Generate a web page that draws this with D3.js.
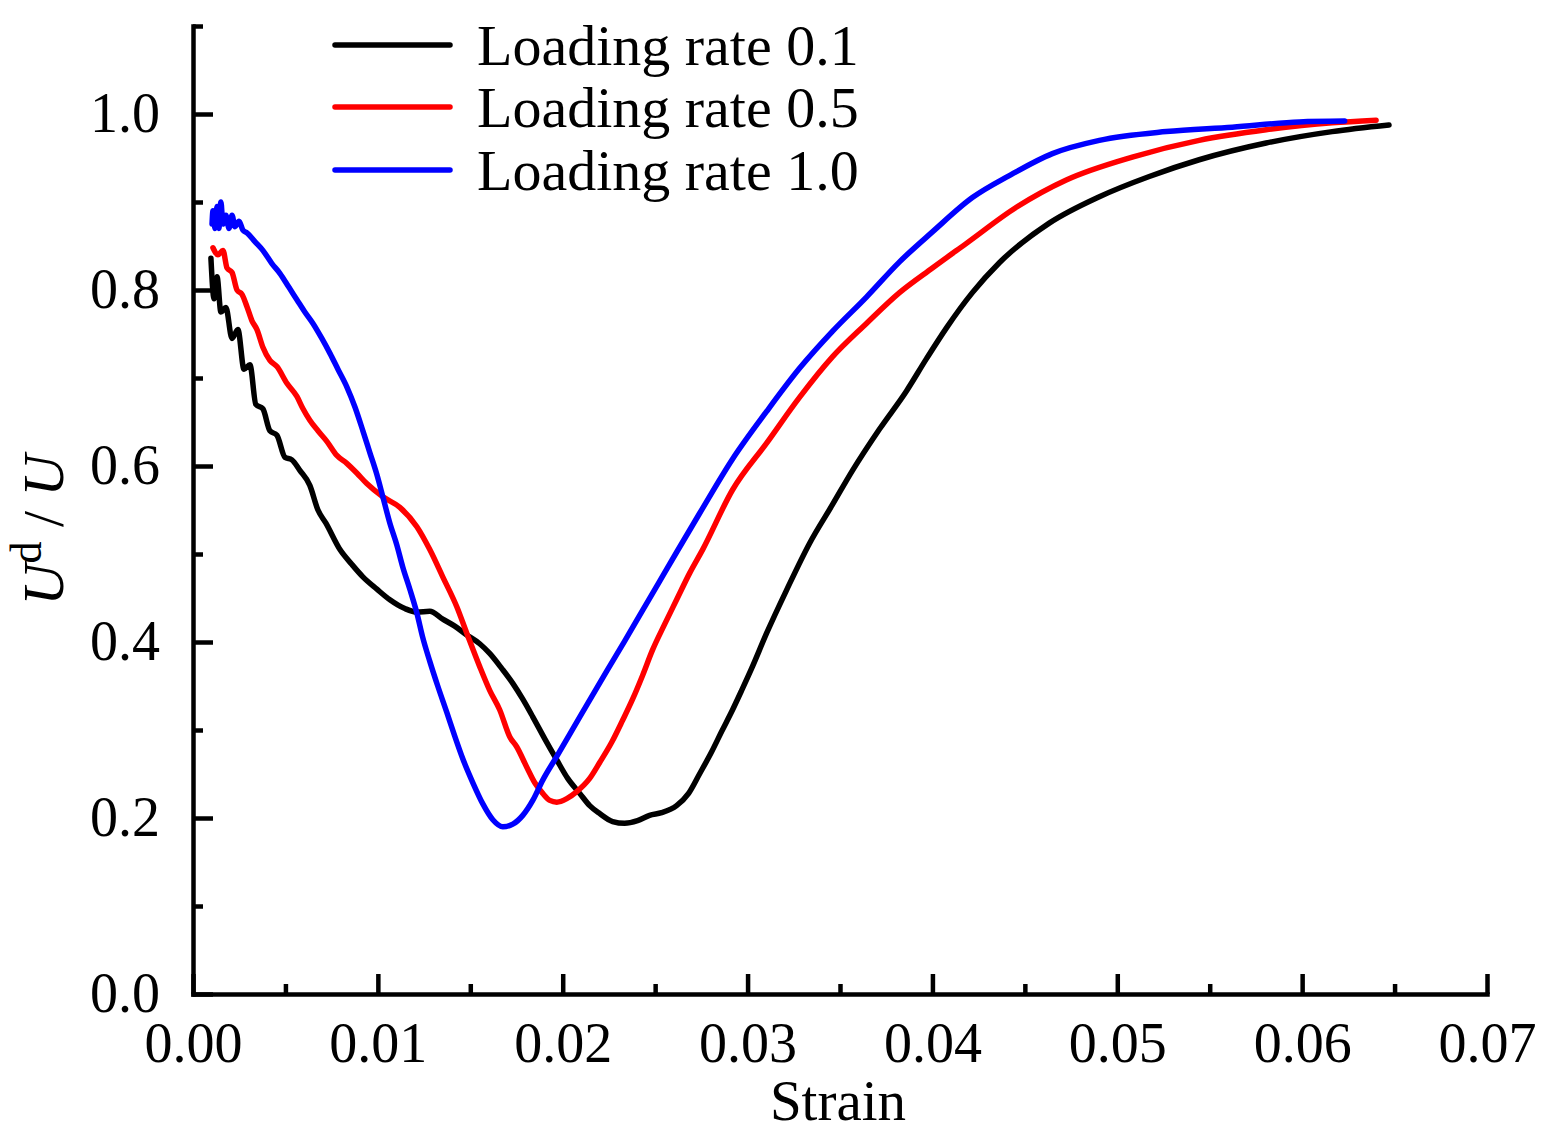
<!DOCTYPE html>
<html>
<head>
<meta charset="utf-8">
<script src="https://cdn.jsdelivr.net/npm/d3@7"></script>
<style>
  body { margin: 0; background: #fff; }
  svg { display: block; }
  text { font-family: "Liberation Serif", "Times New Roman", serif; fill: #000; }
</style>
</head>
<body>
<svg id="chart" width="1550" height="1146"></svg>
<script>
// ---- data ----
const seriesNames = ["Loading rate 0.1", "Loading rate 0.5", "Loading rate 1.0"];
const seriesColors = ["#000000", "#ff0000", "#0000ff"];

const strain01 = [0.00097,0.00114,0.0013,0.00151,0.00178,0.00211,0.00243,0.00276,0.00308,0.0034,0.00378,0.00416,0.00454,0.00497,0.00535,0.00578,0.00632,0.00676,0.00719,0.00795,0.0086,0.00919,0.00995,0.01065,0.01146,0.01211,0.01281,0.01351,0.01416,0.01481,0.01551,0.01605,0.0167,0.0173,0.01784,0.01838,0.01903,0.01968,0.02027,0.02092,0.02146,0.022,0.0227,0.02335,0.02405,0.0247,0.02535,0.02616,0.02681,0.0274,0.02805,0.02859,0.02919,0.02968,0.03022,0.03103,0.03211,0.03335,0.03459,0.03568,0.03714,0.03859,0.03968,0.04076,0.04216,0.04362,0.04632,0.04903,0.05173,0.05443,0.05805,0.06162,0.0647];
const ratio01  = [0.836,0.79,0.815,0.775,0.78,0.745,0.755,0.71,0.715,0.67,0.665,0.64,0.635,0.61,0.607,0.595,0.578,0.55,0.535,0.505,0.488,0.474,0.46,0.448,0.438,0.434,0.435,0.426,0.418,0.408,0.398,0.387,0.37,0.353,0.335,0.315,0.29,0.266,0.245,0.228,0.214,0.205,0.196,0.194,0.197,0.203,0.206,0.214,0.228,0.25,0.275,0.298,0.323,0.345,0.37,0.41,0.459,0.512,0.556,0.595,0.642,0.685,0.722,0.757,0.797,0.831,0.876,0.906,0.929,0.948,0.967,0.98,0.9875];

const strain05 = [0.00108,0.00135,0.00162,0.00184,0.00211,0.00238,0.00265,0.00292,0.00319,0.00346,0.00378,0.00416,0.00454,0.00508,0.00562,0.00595,0.00632,0.00676,0.00724,0.00778,0.00832,0.00886,0.0094,0.01027,0.01119,0.01211,0.01281,0.01351,0.01427,0.01481,0.01551,0.01605,0.01659,0.01714,0.01751,0.01805,0.01849,0.01892,0.0193,0.01968,0.02022,0.02076,0.02146,0.022,0.02265,0.02324,0.02378,0.02432,0.02486,0.02551,0.02616,0.02686,0.02757,0.02919,0.03103,0.03281,0.03459,0.03643,0.03822,0.04,0.04184,0.04454,0.04724,0.05081,0.05443,0.05805,0.06162,0.064];
const ratio05  = [0.848,0.84,0.845,0.825,0.82,0.8,0.795,0.781,0.765,0.755,0.735,0.72,0.713,0.694,0.679,0.665,0.652,0.64,0.628,0.612,0.603,0.592,0.58,0.565,0.553,0.531,0.505,0.474,0.44,0.41,0.372,0.345,0.323,0.292,0.281,0.258,0.24,0.228,0.22,0.218,0.222,0.23,0.245,0.263,0.286,0.311,0.335,0.362,0.391,0.42,0.448,0.478,0.505,0.573,0.626,0.678,0.724,0.762,0.797,0.825,0.853,0.894,0.925,0.951,0.97,0.982,0.99,0.993];

const strain10 = [0.00103,0.00108,0.00119,0.0013,0.0014,0.00151,0.00162,0.00178,0.00195,0.00211,0.00227,0.00249,0.0027,0.00292,0.00335,0.00378,0.00427,0.0047,0.00519,0.00562,0.00605,0.00649,0.00697,0.00741,0.00784,0.00832,0.00876,0.00919,0.00957,0.00995,0.01027,0.01065,0.01103,0.01135,0.01173,0.01211,0.01243,0.01281,0.01324,0.01373,0.01416,0.0146,0.01514,0.01568,0.01622,0.01676,0.0173,0.01784,0.01838,0.01892,0.01968,0.02076,0.02238,0.02335,0.02432,0.02524,0.02616,0.0274,0.02919,0.03103,0.03281,0.03459,0.03643,0.03822,0.04,0.04216,0.04416,0.04649,0.04903,0.05265,0.05622,0.05984,0.0623];
const ratio10  = [0.875,0.89,0.87,0.895,0.87,0.9,0.875,0.885,0.87,0.885,0.872,0.878,0.868,0.865,0.855,0.845,0.83,0.819,0.803,0.789,0.775,0.762,0.745,0.728,0.71,0.69,0.667,0.64,0.615,0.59,0.565,0.535,0.51,0.485,0.46,0.433,0.405,0.378,0.35,0.32,0.293,0.267,0.24,0.216,0.198,0.19,0.193,0.203,0.22,0.243,0.27,0.309,0.367,0.401,0.436,0.469,0.502,0.546,0.608,0.662,0.711,0.753,0.792,0.832,0.866,0.905,0.93,0.955,0.97,0.98,0.985,0.991,0.992];

const xMajorTicks = [0, 0.01, 0.02, 0.03, 0.04, 0.05, 0.06, 0.07];
const xMinorTicks = [0.005, 0.015, 0.025, 0.035, 0.045, 0.055, 0.065];
const yMajorTicks = [0, 0.2, 0.4, 0.6, 0.8, 1.0];
const yMinorTicks = [0.1, 0.3, 0.5, 0.7, 0.9, 1.1];
const xTitle = "Strain";

// ---- build ----
const series = [
  { name: seriesNames[0], color: seriesColors[0], xs: strain01, ys: ratio01 },
  { name: seriesNames[1], color: seriesColors[1], xs: strain05, ys: ratio05 },
  { name: seriesNames[2], color: seriesColors[2], xs: strain10, ys: ratio10 }
];

const svg = d3.select("#chart");
const x = d3.scaleLinear().domain([0, 0.07]).range([193, 1487]);
const y = d3.scaleLinear().domain([0, 1.1]).range([994, 26]);

const line = d3.line().x(d => x(d[0])).y(d => y(d[1])).curve(d3.curveMonotoneX);

const plot = svg.append("g");
series.forEach(s => {
  plot.append("path")
    .datum(s.xs.map((v, i) => [v, s.ys[i]]))
    .attr("fill", "none")
    .attr("stroke", s.color)
    .attr("stroke-width", 5.5)
    .attr("stroke-linejoin", "round")
    .attr("stroke-linecap", "round")
    .attr("d", line);
});

// axes
svg.append("g").attr("transform", `translate(0,${y(0)})`)
  .call(d3.axisBottom(x).tickValues(xMajorTicks).tickFormat(d3.format(".2f"))
    .tickSizeInner(-20).tickSizeOuter(0).tickPadding(28));
svg.append("g").attr("transform", `translate(0,${y(0)})`)
  .call(d3.axisBottom(x).tickValues(xMinorTicks).tickFormat("")
    .tickSizeInner(-10).tickSizeOuter(0))
  .select(".domain").remove();

svg.append("g").attr("transform", `translate(${x(0)},0)`)
  .call(d3.axisLeft(y).tickValues(yMajorTicks).tickFormat(d3.format(".1f"))
    .tickSizeInner(-20).tickSizeOuter(0).tickPadding(33));
svg.append("g").attr("transform", `translate(${x(0)},0)`)
  .call(d3.axisLeft(y).tickValues(yMinorTicks).tickFormat("")
    .tickSizeInner(-10).tickSizeOuter(0))
  .select(".domain").remove();

svg.selectAll(".domain").attr("stroke", "#000").attr("stroke-width", 4.5).attr("stroke-linecap", "square");
svg.selectAll(".tick line").attr("stroke", "#000").attr("stroke-width", 4.5);
svg.selectAll(".tick text").style("font-family", '"Liberation Serif", serif').style("font-size", "56px").attr("fill", "#000");

// axis titles
svg.append("text")
  .attr("x", (x(0) + x(0.07)) / 2 - 2)
  .attr("y", 1120)
  .attr("text-anchor", "middle")
  .style("font-size", "57px")
  .text(xTitle);

const yt = svg.append("text")
  .attr("transform", "translate(63,530) rotate(-90)")
  .attr("text-anchor", "middle")
  .style("font-size", "58px");
yt.append("tspan").style("font-style", "italic").text("U");
yt.append("tspan").attr("dy", -22).style("font-size", "44px").text("d");
yt.append("tspan").attr("dy", 22).text(" / ");
yt.append("tspan").style("font-style", "italic").text("U");

// legend
const legendY = [45, 107, 170];
const leg = svg.append("g");
series.forEach((s, i) => {
  leg.append("line")
    .attr("x1", 335).attr("x2", 450)
    .attr("y1", legendY[i]).attr("y2", legendY[i])
    .attr("stroke", s.color).attr("stroke-width", 5.5).attr("stroke-linecap", "round");
  leg.append("text")
    .attr("x", 477).attr("y", legendY[i] + 20)
    .style("font-size", "58px")
    .text(s.name);
});
</script>
</body>
</html>
